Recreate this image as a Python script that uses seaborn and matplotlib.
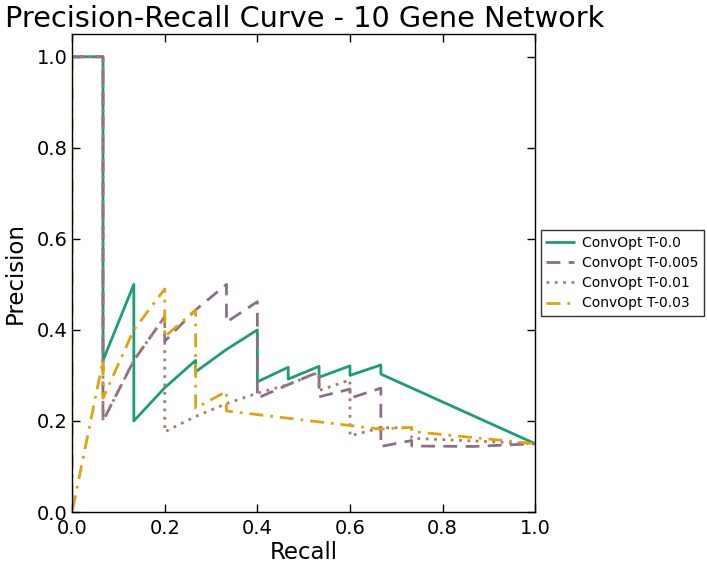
import numpy as np
import pandas as pd
import matplotlib
matplotlib.use("Agg")
import matplotlib.pyplot as plt
import seaborn as sns

# series (recall, precision vertices)
names = ["ConvOpt T-0.0", "ConvOpt T-0.005", "ConvOpt T-0.01", "ConvOpt T-0.03"]

recall_t0 = [0.0, 0.0667, 0.0667, 0.1333, 0.1333, 0.2, 0.2667, 0.2667, 0.3333, 0.4, 0.4,
             0.4667, 0.4667, 0.5333, 0.5333, 0.6, 0.6, 0.6667, 0.6667, 1.0]
prec_t0 = [1.0, 1.0, 0.333, 0.5, 0.2, 0.273, 0.333, 0.308, 0.357, 0.4, 0.286,
           0.318, 0.292, 0.32, 0.296, 0.321, 0.3, 0.323, 0.303, 0.15]

recall_t005 = [0.0, 0.0667, 0.0667, 0.1333, 0.2, 0.2, 0.2667, 0.3333, 0.3333, 0.4, 0.4,
               0.4667, 0.5333, 0.5333, 0.6, 0.6, 0.6667, 0.6667, 0.7333, 0.7333, 0.8667, 0.9333, 1.0]
prec_t005 = [1.0, 1.0, 0.2, 0.333, 0.429, 0.375, 0.444, 0.5, 0.417, 0.462, 0.25,
             0.28, 0.308, 0.253, 0.27, 0.25, 0.272, 0.144, 0.157, 0.145, 0.144, 0.147, 0.15]

recall_t01 = [0.0, 0.0667, 0.0667, 0.1333, 0.2, 0.2, 0.2667, 0.3333, 0.4, 0.4667, 0.5333,
              0.5333, 0.6, 0.6, 0.6667, 0.7333, 0.7333, 1.0]
prec_t01 = [1.0, 1.0, 0.2, 0.333, 0.429, 0.176, 0.21, 0.238, 0.261, 0.28, 0.307,
            0.267, 0.29, 0.167, 0.185, 0.185, 0.162, 0.15]

recall_t03 = [0.0, 0.0, 0.0667, 0.0667, 0.1333, 0.2, 0.2, 0.2667, 0.2667, 0.3333, 0.3333,
              0.6667, 0.7333, 0.7333, 1.0]
prec_t03 = [1.0, 0.0, 0.333, 0.25, 0.4, 0.49, 0.385, 0.444, 0.228, 0.265, 0.222,
            0.182, 0.186, 0.177, 0.15]

colors = ["#1b9e77", "#8a6e8a", "#a97b6b", "#dda40c"]

frames = []
for name, r, p in zip(names, [recall_t0, recall_t005, recall_t01, recall_t03],
                      [prec_t0, prec_t005, prec_t01, prec_t03]):
    frames.append(pd.DataFrame({"Recall": r, "Precision": p, "model": name}))
df = pd.concat(frames, ignore_index=True)

sns.set_style("ticks")
plt.rcParams["font.family"] = ["DejaVu Sans"]
plt.rcParams["text.color"] = "black"
plt.rcParams["axes.labelcolor"] = "black"
plt.rcParams["xtick.color"] = "black"
plt.rcParams["ytick.color"] = "black"
plt.rcParams["xtick.direction"] = "in"
plt.rcParams["ytick.direction"] = "in"
plt.rcParams["xtick.top"] = True
plt.rcParams["ytick.right"] = True

fig = plt.figure(figsize=(7.07, 5.67), dpi=100)
ax = fig.add_axes([0.102, 0.097, 0.655, 0.843])

sns.lineplot(data=df, x="Recall", y="Precision", hue="model", style="model",
             hue_order=names, style_order=names, palette=colors,
             dashes={names[0]: "", names[1]: (5, 3), names[2]: (1, 2), names[3]: (5, 2.5, 1, 2.5)},
             sort=False, estimator=None, linewidth=2, ax=ax)

ax.set_xlim(0, 1)
ax.set_ylim(0, 1.05)
ax.set_xticks([0.0, 0.2, 0.4, 0.6, 0.8, 1.0])
ax.set_yticks([0.0, 0.2, 0.4, 0.6, 0.8, 1.0])
ax.tick_params(labelsize=14, length=6, width=1, colors="black")
ax.tick_params(axis="x", pad=5)
for s in ax.spines.values():
    s.set_color("black")
    s.set_linewidth(1)
ax.set_xlabel("Recall", fontsize=16.5, labelpad=2)
ax.set_ylabel("Precision", fontsize=16.5, labelpad=7)
ax.set_title("Precision-Recall Curve - 10 Gene Network", fontsize=20.7, loc="left", x=-0.145, pad=5)

sns.move_legend(ax, "center left", bbox_to_anchor=(1.0, 0.5), title=None,
                frameon=True, fancybox=False, edgecolor="black", fontsize=10,
                handlelength=2.0, handletextpad=0.6, borderpad=0.4,
                borderaxespad=0.4, labelspacing=0.45)

fig.savefig("out.png", dpi=100)
